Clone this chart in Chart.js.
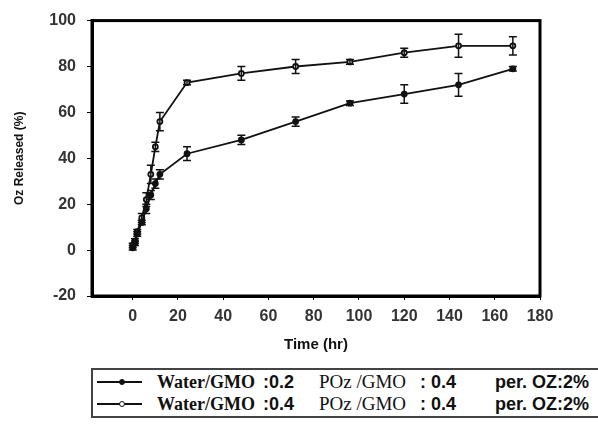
<!DOCTYPE html>
<html>
<head>
<meta charset="utf-8">
<script src="https://cdn.jsdelivr.net/npm/chart.js@4/dist/chart.umd.min.js"></script>
<style>
  body { margin: 0; background: #fff; width: 598px; height: 425px; position: relative; overflow: hidden; }
  #wrap { position: absolute; left: 0; top: 0; width: 598px; height: 355px; }
  #legend { position: absolute; left: 91px; top: 368px; width: 520px; height: 50px;
            border: 2px solid #444; border-right: none; box-sizing: border-box; }
  .row { position: absolute; left: 0; height: 22px; width: 520px; }
  .row span { position: absolute; top: 0; line-height: 22px; white-space: nowrap; }
  .tnr { font-family: "Liberation Serif", serif; color: #111; font-size: 19px; }
  .ar { font-family: "Liberation Sans", Arial, sans-serif; font-weight: bold; color: #111; font-size: 18px; }
  .sym { position: absolute; left: 4px; top: 10px; width: 45px; height: 2px; background: #111; }
  .dot { position: absolute; left: 22px; top: -2px; width: 6px; height: 6px; border-radius: 50%; border: 1.5px solid #111; box-sizing: border-box; }
</style>
</head>
<body>
<div id="wrap"><canvas id="c" width="598" height="355"></canvas></div>
<div id="legend">
  <div class="row" style="top:1px">
    <div class="sym"><div class="dot" style="background:#111"></div></div>
    <span class="tnr" style="left:64px;font-weight:bold;font-size:18px">Water/GMO</span>
    <span class="ar" style="left:170px">:0.2</span>
    <span class="tnr" style="left:226px">POz /GMO</span>
    <span class="ar" style="left:327px">: 0.4</span>
    <span class="ar" style="left:402px">per. OZ:2%</span>
  </div>
  <div class="row" style="top:23px">
    <div class="sym"><div class="dot" style="background:#fff"></div></div>
    <span class="tnr" style="left:64px;font-weight:bold;font-size:18px">Water/GMO</span>
    <span class="ar" style="left:170px">:0.4</span>
    <span class="tnr" style="left:226px">POz /GMO</span>
    <span class="ar" style="left:327px">: 0.4</span>
    <span class="ar" style="left:402px">per. OZ:2%</span>
  </div>
</div>
<script>
// time points (hr)
const times = [0, 1, 2, 4, 6, 8, 10, 12, 24, 48, 72, 96, 120, 144, 168];
// Water/GMO 0.2
const rel1 = [1, 3, 7, 12, 18, 24, 29, 33, 42, 48, 56, 64, 68, 72, 79];
const err1 = [1, 1, 1, 1, 2, 2, 2, 2, 3, 2, 2, 1, 4, 5, 1];
// Water/GMO 0.4
const rel2 = [2, 4, 8, 14, 22, 33, 45, 56, 73, 77, 80, 82, 86, 89, 89];
const err2 = [1, 1, 1, 2, 3, 4, 2, 4, 1, 3, 3, 1, 2, 5, 4];
const xTicks = [0, 20, 40, 60, 80, 100, 120, 140, 160, 180];
const yTicks = [-20, 0, 20, 40, 60, 80, 100];

function pts(ys, es) {
  return times.map((t, i) => ({ x: t, y: ys[i], e: es[i] }));
}

// error bars + frame
const extras = {
  id: 'extras',
  afterDatasetsDraw(chart) {
    const ctx = chart.ctx;
    const xs = chart.scales.x, ys = chart.scales.y;
    ctx.save();
    ctx.strokeStyle = '#111';
    ctx.lineWidth = 1.5;
    chart.data.datasets.forEach(ds => {
      ds.data.forEach(p => {
        const px = xs.getPixelForValue(p.x);
        const top = ys.getPixelForValue(p.y + p.e);
        const bot = ys.getPixelForValue(p.y - p.e);
        ctx.beginPath();
        ctx.moveTo(px, top); ctx.lineTo(px, bot);
        ctx.moveTo(px - 4, top); ctx.lineTo(px + 4, top);
        ctx.moveTo(px - 4, bot); ctx.lineTo(px + 4, bot);
        ctx.stroke();
      });
    });
    const a = chart.chartArea;
    ctx.lineWidth = 3;
    ctx.strokeStyle = '#000';
    ctx.strokeRect(a.left, a.top, a.right - a.left, a.bottom - a.top);
    ctx.restore();
  }
};

const tickFont = { family: 'Liberation Sans, Arial', size: 16, weight: 'bold' };

new Chart(document.getElementById('c'), {
  type: 'scatter',
  data: {
    datasets: [{
      data: pts(rel1, err1),
      showLine: true,
      borderColor: '#111',
      borderWidth: 1.8,
      pointRadius: 2.5,
      pointBackgroundColor: '#111',
      pointBorderColor: '#111'
    }, {
      data: pts(rel2, err2),
      showLine: true,
      borderColor: '#111',
      borderWidth: 1.8,
      pointRadius: 2.5,
      pointBackgroundColor: '#fff',
      pointBorderColor: '#111'
    }]
  },
  options: {
    responsive: false,
    animation: false,
    layout: { padding: { top: 18, right: 58, left: 0, bottom: 0 } },
    plugins: { legend: { display: false }, tooltip: { enabled: false } },
    scales: {
      x: {
        type: 'linear',
        min: -18, max: 180,
        afterBuildTicks: s => { s.ticks = xTicks.map(v => ({ value: v })); },
        afterFit: s => { s.height = 59; },
        grid: { drawOnChartArea: false, color: '#000', tickLength: 4 },
        border: { color: '#000', width: 3 },
        ticks: { color: '#333', font: tickFont, padding: 7, maxRotation: 0 },
        title: { display: true, text: 'Time (hr)', color: '#111',
                 font: { family: 'Liberation Sans, Arial', size: 15, weight: 'bold' },
                 padding: { top: 2, bottom: 1 } }
      },
      y: {
        min: -20, max: 100,
        afterBuildTicks: s => { s.ticks = yTicks.map(v => ({ value: v })); },
        afterFit: s => { s.width = 92; },
        grid: { drawOnChartArea: false, color: '#000', tickLength: 5 },
        border: { color: '#000', width: 3 },
        ticks: { color: '#333', font: tickFont, padding: 11 },
        title: { display: true, text: 'Oz Released (%)', color: '#111',
                 font: { family: 'Liberation Sans, Arial', size: 12, weight: 'bold' },
                 padding: { top: 12, bottom: 0 } }
      }
    }
  },
  plugins: [extras]
});
</script>
</body>
</html>
